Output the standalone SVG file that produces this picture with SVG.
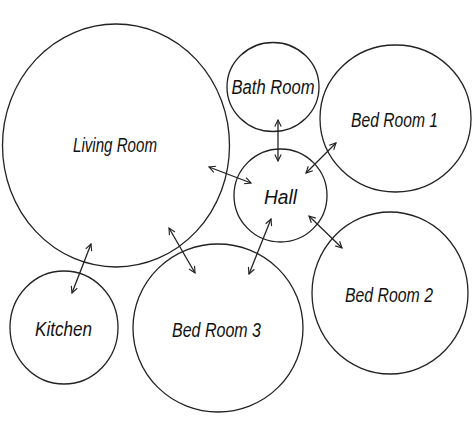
<svg xmlns="http://www.w3.org/2000/svg" width="474" height="429" viewBox="0 0 474 429">
<style>
.room{fill:none;stroke:#222;stroke-width:1.3}
.lbl{font-family:"Liberation Sans",Arial,sans-serif;font-style:italic;font-size:20px;fill:#111;text-anchor:middle}
.con{stroke:#222;stroke-width:1.3;fill:none;marker-start:url(#ah);marker-end:url(#ah)}
</style>
<defs>
<marker id="ah" viewBox="0 0 10 10" refX="9" refY="5" markerWidth="8" markerHeight="8" markerUnits="userSpaceOnUse" orient="auto-start-reverse">
<path d="M1,1 L9,5 L1,9" fill="none" stroke="#222" stroke-width="1.4"/>
</marker>
</defs>
<rect width="474" height="429" fill="#fff"/>
<g id="living-room"><ellipse class="room" cx="116" cy="145.5" rx="113.5" ry="121.5"/><text class="lbl" x="115" y="152" textLength="84" lengthAdjust="spacingAndGlyphs">Living Room</text></g>
<g id="bath-room"><ellipse class="room" cx="273" cy="87" rx="46" ry="44.5"/><text class="lbl" x="273" y="94" textLength="83" lengthAdjust="spacingAndGlyphs">Bath Room</text></g>
<g id="bed-room-1"><ellipse class="room" cx="395.5" cy="118.5" rx="75.5" ry="73.5"/><text class="lbl" x="394.5" y="127" textLength="87" lengthAdjust="spacingAndGlyphs">Bed Room 1</text></g>
<g id="hall"><ellipse class="room" cx="280.5" cy="195.5" rx="46.5" ry="46.5"/><text class="lbl" x="280.5" y="204" textLength="33" lengthAdjust="spacingAndGlyphs">Hall</text></g>
<g id="bed-room-2"><ellipse class="room" cx="390" cy="293" rx="78" ry="81"/><text class="lbl" x="389" y="302" textLength="88" lengthAdjust="spacingAndGlyphs">Bed Room 2</text></g>
<g id="bed-room-3"><ellipse class="room" cx="218" cy="328" rx="85" ry="84"/><text class="lbl" x="216.5" y="337" textLength="89" lengthAdjust="spacingAndGlyphs">Bed Room 3</text></g>
<g id="kitchen"><ellipse class="room" cx="64" cy="327.5" rx="54" ry="56.5"/><text class="lbl" x="63.5" y="336" textLength="57" lengthAdjust="spacingAndGlyphs">Kitchen</text></g>
<g id="connectors">
<line class="con" x1="209" y1="167" x2="251" y2="183"/>
<line class="con" x1="278" y1="120" x2="278" y2="161"/>
<line class="con" x1="306" y1="173" x2="336" y2="143"/>
<line class="con" x1="309" y1="216" x2="342" y2="248"/>
<line class="con" x1="271" y1="219" x2="249" y2="274"/>
<line class="con" x1="169" y1="228" x2="195" y2="273"/>
<line class="con" x1="91" y1="244" x2="72" y2="293"/>
</g>
</svg>
